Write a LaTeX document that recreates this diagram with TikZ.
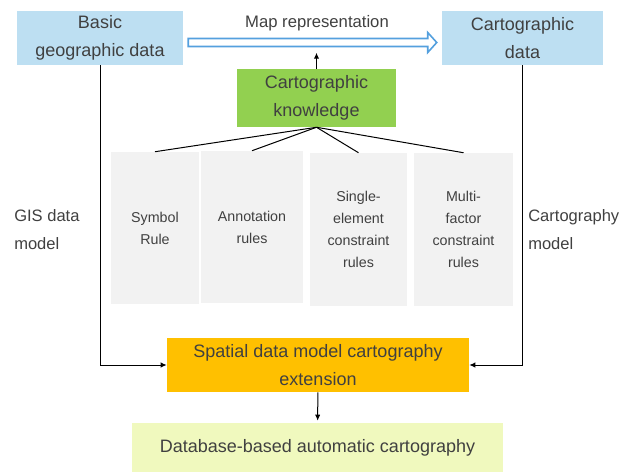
\documentclass[tikz,border=0pt]{standalone}
\usepackage{fontspec}
\setmainfont{Liberation Sans}
\usetikzlibrary{arrows.meta, positioning, calc}

\definecolor{skyblue}{RGB}{189,223,242}
\definecolor{leafgreen}{RGB}{146,208,80}
\definecolor{amber}{RGB}{255,192,0}
\definecolor{rulegray}{RGB}{242,242,242}
\definecolor{paleyellow}{RGB}{240,249,190}
\definecolor{inkgray}{RGB}{64,64,64}
\definecolor{arrowblue}{RGB}{84,160,222}

\begin{document}
\begin{tikzpicture}[x=0.75pt, y=-0.75pt, every node/.style={text=inkgray, align=center, inner sep=0pt},
						box/.style={minimum height=40.5pt, font=\fontsize{13.5pt}{20.5pt}\selectfont},
						rulebox/.style={fill=rulegray, minimum height=114pt, font=\fontsize{10.7pt}{16.5pt}\selectfont},
						side/.style={anchor=west, align=left, font=\fontsize{12.4pt}{21pt}\selectfont},
						link/.style={draw=black, line width=0.75pt, -{Latex[length=4.5pt, width=4pt]}}]
			\useasboundingbox (0,0) rectangle (628,474);
			\node[box, fill=skyblue, minimum width=124.5pt] (basic) at (100,38) {Basic\\geographic data};
			\node[box, fill=skyblue, minimum width=120.75pt] (cdata) at (522.5,38) {Cartographic\\data};
			\node[box, fill=leafgreen, minimum width=119.25pt, minimum height=43.5pt] (know) at (316.5,98) {Cartographic\\knowledge};

			\node[rulebox, minimum width=66pt] (symbol) at (155,228) {Symbol\\Rule};
			\node[rulebox, minimum width=76.5pt] (annot) at (252,227) {Annotation\\rules};
                \node[rulebox, minimum width=72.75pt, minimum height=114.75pt] (single) at (358.5,229.5) {Single-\\element\\constraint\\rules};
                \node[rulebox, minimum width=74.25pt, minimum height=114.75pt] (multi) at (463.5,229.5) {Multi-\\factor\\constraint\\rules};

			\node[box, fill=amber, minimum width=226.5pt] (spatial) at (318,365) {Spatial data model cartography\\extension};
			\node[box, fill=paleyellow, minimum width=278.25pt, minimum height=36.75pt] (auto) at (317.5,447.5) {Database-based automatic cartography};

			\node[side] (gis) at (14,230) {GIS data\\model};
			\node[side] (cmodel) at (528,230) {Cartography\\model};

			% hollow arrow for map representation
			\coordinate (ms) at ($(basic.east)+(5,4.5)$);
			\coordinate (me) at ($(cdata.west)+(-5,4.5)$);
			\draw[arrowblue, line width=1.2pt, line join=miter] ($(ms)+(0,-4)$) -- ($(me)+(-9,-4)$) -- ($(me)+(-9,-10)$) -- (me)
				-- ($(me)+(-9,10)$) -- ($(me)+(-9,4)$) -- ($(ms)+(0,4)$) -- cycle;
			\node[font=\fontsize{12.5pt}{15pt}\selectfont] (maplabel) at (317,23) {Map representation};

			\coordinate (kt) at ($(know.north)+(0,-16)$);
			\draw[link] (know) -- (kt);

			\draw[line width=0.75pt] (know.south) -- (symbol.north);
			\draw[line width=0.75pt] (know.south) -- (annot.north);
                \draw[line width=0.75pt] (know.south) -- (single.north);
                \draw[line width=0.75pt] (know.south) -- (multi.north);

			\draw[link] (basic.south) |- (spatial.west);
			\draw[link] (cdata.south) |- (spatial.east);
			\draw[link, shorten >=1.5pt] (spatial) -- (auto);
		\end{tikzpicture}
\end{document}
